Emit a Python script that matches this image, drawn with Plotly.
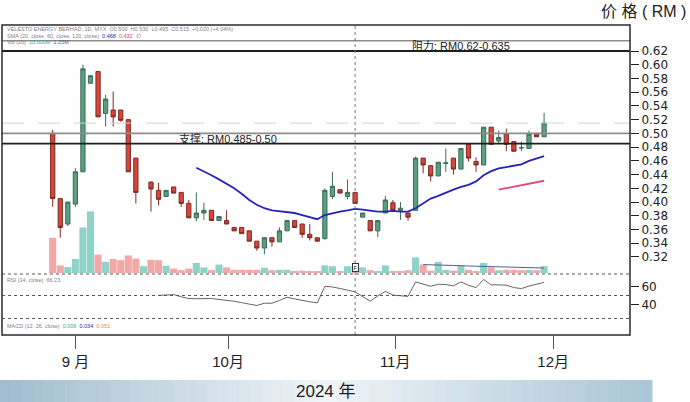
import plotly.graph_objects as go

W, H = 690, 402

# ---------------- data (trading-day index, price in RM) ----------------
day = list(range(66))
opens = [0.500, 0.405, 0.368, 0.397, 0.444, 0.573, 0.590, 0.529, 0.534, 0.534, 0.520, 0.464, None,
         0.429, 0.417, 0.408, 0.422, 0.414, 0.398, 0.377, 0.384, 0.388, 0.373, 0.373, 0.363, 0.363,
         0.358, 0.343, 0.333, 0.348, 0.342, 0.358, 0.373, 0.368, 0.353, 0.348, 0.347, 0.408, 0.418,
         0.408, 0.414, 0.378, 0.373, 0.358, 0.384, 0.399, 0.388, 0.384, 0.388, 0.464, 0.453, 0.438,
         0.456, 0.464, 0.448, 0.484, 0.459, 0.454, 0.509, 0.489, 0.499, 0.488, 0.479, 0.478, 0.500, 0.495]
highs = [0.505, 0.405, 0.400, 0.449, 0.600, 0.585, 0.590, 0.556, 0.561, 0.534, 0.520, 0.464, None,
         0.430, 0.428, 0.417, 0.422, 0.414, 0.403, 0.414, 0.399, 0.388, 0.379, 0.388, 0.363, 0.363,
         0.358, 0.343, 0.348, 0.348, 0.363, 0.373, 0.373, 0.368, 0.368, 0.348, 0.420, 0.444, 0.418,
         0.433, 0.414, 0.384, 0.373, 0.373, 0.409, 0.403, 0.400, 0.384, 0.466, 0.464, 0.453, 0.458,
         0.478, 0.464, 0.478, 0.484, 0.465, 0.509, 0.509, 0.504, 0.507, 0.488, 0.488, 0.504, 0.500, 0.530]
lows = [0.393, 0.348, 0.365, 0.393, 0.444, 0.573, 0.524, 0.510, 0.510, 0.517, 0.444, 0.398, None,
        0.386, 0.395, 0.408, 0.413, 0.393, 0.377, 0.372, 0.374, 0.373, 0.373, 0.368, 0.358, 0.354,
        0.343, 0.329, 0.324, 0.335, 0.342, 0.358, 0.363, 0.348, 0.344, 0.343, 0.345, 0.404, 0.413,
        0.404, 0.398, 0.378, 0.358, 0.349, 0.384, 0.388, 0.374, 0.373, 0.388, 0.442, 0.430, 0.438,
        0.444, 0.440, 0.448, 0.459, 0.444, 0.454, 0.484, 0.484, 0.474, 0.474, 0.474, 0.478, 0.495, 0.495]
closes = [0.405, 0.363, 0.400, 0.444, 0.594, 0.584, 0.524, 0.550, 0.524, 0.519, 0.444, 0.414, None,
          0.419, 0.404, 0.417, 0.413, 0.398, 0.377, 0.384, 0.388, 0.373, 0.379, 0.368, 0.358, 0.354,
          0.343, 0.333, 0.348, 0.342, 0.358, 0.373, 0.363, 0.353, 0.348, 0.343, 0.417, 0.423, 0.413,
          0.414, 0.398, 0.384, 0.358, 0.373, 0.403, 0.388, 0.391, 0.378, 0.464, 0.454, 0.438, 0.458,
          0.457, 0.448, 0.478, 0.464, 0.454, 0.509, 0.484, 0.494, 0.484, 0.474, 0.479, 0.499, 0.495, 0.515]
# volume, million shares
volume = [8.8, 1.9, 1.5, 3.5, 11.4, 15.4, 4.6, 2.8, 3.5, 3.2, 4.4, 3.6, 1.7,
          3.3, 3.2, 1.8, 1.1, 0.7, 1.1, 2.5, 1.4, 0.7, 2.1, 1.4, 0.8, 0.8,
          0.8, 0.8, 1.3, 0.7, 0.8, 0.8, 0.4, 0.6, 0.4, 0.4, 1.9, 1.7, 0.4,
          1.7, 1.7, 1.4, 0.7, 0.4, 1.9, 0.4, 0.3, 0.7, 3.9, 2.1, 0.6, 2.8,
          0.8, 0.6, 1.9, 0.8, 0.4, 2.5, 1.4, 0.7, 0.8, 0.8, 0.7, 0.8, 0.7, 1.7]
vol_up = [False, False, True, True, True, True, False, True, False, False, False, False, True,
          False, False, True, False, False, False, True, True, False, True, False, False, False,
          False, False, True, False, True, True, False, False, False, False, True, True, False,
          True, False, True, False, True, True, False, False, False, True, False, False, True,
          True, False, True, False, False, True, False, True, False, False, False, True, False, True]
volma_day = list(range(49, 66))
volma = [2.10, 2.08, 2.03, 1.98, 1.90, 1.83, 1.75, 1.70, 1.65, 1.60, 1.53, 1.45, 1.40, 1.35, 1.30, 1.25, 1.25]

sma20_day = list(range(19, 66))
sma20 = [0.450, 0.445, 0.439, 0.433, 0.427, 0.420, 0.412, 0.403, 0.396, 0.391, 0.388, 0.387, 0.386,
         0.384, 0.381, 0.378, 0.375, 0.381, 0.384, 0.386, 0.388, 0.390, 0.389, 0.387, 0.386, 0.386,
         0.387, 0.386, 0.386, 0.391, 0.398, 0.405, 0.409, 0.414, 0.418, 0.422, 0.425, 0.430, 0.439,
         0.445, 0.449, 0.451, 0.453, 0.455, 0.460, 0.464, 0.467]
sma60_day = list(range(59, 66))
sma60 = [0.418, 0.420, 0.422, 0.424, 0.426, 0.428, 0.431]

rsi_day = list(range(14, 66))
rsi = [50.1, 50.8, 51.0, 48.5, 46.7, 46.4, 46.5, 46.7, 45.6, 44.8, 43.6, 42.0, 40.5, 38.9, 41.4,
       41.4, 44.5, 48.0, 46.2, 44.4, 43.0, 41.8, 60.2, 59.5, 58.0, 56.0, 54.0, 48.5, 43.7, 49.5,
       54.6, 50.5, 49.5, 49.0, 65.1, 62.5, 60.2, 62.5, 62.2, 60.7, 65.1, 61.3, 58.8, 67.8, 61.8,
       61.8, 61.5, 58.8, 57.7, 60.5, 62.2, 64.5]

month_pos = [3.0, 23.2, 45.3, 66.2]
month_text = ["9 月", "10月", "11月", "12月"]
price_ticks = [0.32, 0.34, 0.36, 0.38, 0.40, 0.42, 0.44, 0.46, 0.48, 0.50, 0.52, 0.54, 0.56, 0.58, 0.60, 0.62]
rsi_ticks = [40, 60]
resistance = (0.62, 0.635)
support = (0.485, 0.50)
last_price = 0.515
cursor_day = 40

# ---------------- helpers ----------------
def px_x(p):
    return p / W

def px_y(p):
    return 1 - p / H

BOX_L, BOX_R, BOX_T, BOX_B = 2, 630, 25, 335
X0_PX, DX_PX = 52.7, 7.56
x_range = [(BOX_L - X0_PX) / DX_PX, (BOX_R - X0_PX) / DX_PX]

PY0, PK = 51, 686.5  # 0.62 at y=51, px per RM
MAIN_T, MAIN_B = 25, 273
price_range = [0.62 - (MAIN_B - PY0) / PK, 0.62 + (PY0 - MAIN_T) / PK]
RSI_T, RSI_B = 274, 318.5
rsi_range = [50 - (RSI_B - 295.5) / 0.9, 50 + (295.5 - RSI_T) / 0.9]

fig = go.Figure()

fig.add_trace(go.Bar(
    x=day, y=volume, yaxis="y2",
    marker=dict(color=["#8fd2c7" if u else "#f3a7a6" for u in vol_up], line=dict(width=0)),
    hoverinfo="skip", showlegend=False))
fig.add_trace(go.Scatter(x=volma_day, y=volma, yaxis="y2", mode="lines",
                         line=dict(color="#52608f", width=1), showlegend=False, hoverinfo="skip"))

fig.add_trace(go.Candlestick(
    x=day, open=opens, high=highs, low=lows, close=closes,
    increasing=dict(fillcolor="#5c9e80", line=dict(color="#3a6c57", width=1)),
    decreasing=dict(fillcolor="#d8463a", line=dict(color="#7d2a22", width=1)),
    showlegend=False, hoverinfo="skip"))

fig.add_trace(go.Scatter(x=sma20_day, y=sma20, mode="lines",
                         line=dict(color="#2424b8", width=1.8), showlegend=False, hoverinfo="skip"))
fig.add_trace(go.Scatter(x=sma60_day, y=sma60, mode="lines",
                         line=dict(color="#e2496a", width=1.8), showlegend=False, hoverinfo="skip"))

fig.add_trace(go.Scatter(x=rsi_day, y=rsi, yaxis="y3", mode="lines",
                         line=dict(color="#555555", width=0.9), showlegend=False, hoverinfo="skip"))

shapes = []
# gradient banner
n = 60
left, mid, right = (160, 189, 207), (240, 245, 248), (170, 198, 214)
for i in range(n):
    t = (i + 0.5) / n
    if t < 0.5:
        a, b, u = left, mid, t / 0.5
    else:
        a, b, u = mid, right, (t - 0.5) / 0.5
    c = tuple(int(a[k] + (b[k] - a[k]) * u) for k in range(3))
    shapes.append(dict(type="rect", xref="paper", yref="paper",
                       x0=px_x(652 * i / n), x1=px_x(652 * (i + 1) / n + 0.5),
                       y0=px_y(402), y1=px_y(380), line=dict(width=0),
                       fillcolor="rgb(%d,%d,%d)" % c, layer="below"))

# last price faint dashed line
shapes.append(dict(type="line", xref="paper", yref="y", x0=px_x(BOX_L), x1=px_x(BOX_R),
                   y0=last_price, y1=last_price, line=dict(color="#d2d2d2", width=1, dash="22px,14px")))
# resistance / support lines
for lvl, col, wd in [(resistance[1], "#8c8c8c", 1.6), (resistance[0], "#1e1e1e", 1.8),
                     (support[1], "#8c8c8c", 1.6), (support[0], "#1e1e1e", 1.8)]:
    shapes.append(dict(type="line", xref="paper", yref="y", x0=px_x(BOX_L), x1=px_x(BOX_R),
                       y0=lvl, y1=lvl, line=dict(color=col, width=wd)))
# pane separators / RSI midline
for ypx in [274, RSI_B]:
    shapes.append(dict(type="line", xref="paper", yref="paper", x0=px_x(BOX_L), x1=px_x(BOX_R),
                       y0=px_y(ypx), y1=px_y(ypx), line=dict(color="#555555", width=1, dash="3px,3px")))
shapes.append(dict(type="line", xref="paper", yref="y3", x0=px_x(BOX_L), x1=px_x(BOX_R),
                   y0=50, y1=50, line=dict(color="#555555", width=1, dash="3px,3px")))
# cursor line
shapes.append(dict(type="line", xref="x", yref="paper", x0=cursor_day, x1=cursor_day,
                   y0=px_y(BOX_B), y1=px_y(BOX_T), line=dict(color="#777777", width=1, dash="dot")))
# box
shapes.append(dict(type="rect", xref="paper", yref="paper", x0=px_x(BOX_L), x1=px_x(BOX_R),
                   y0=px_y(BOX_B), y1=px_y(BOX_T), line=dict(color="#2a2a2a", width=1.5)))

cjk = "Liberation Sans, Noto Sans CJK SC, sans-serif"
tiny = dict(family="Liberation Sans, sans-serif", size=5.5, color="#808080")
ann = []
ann.append(dict(xref="paper", yref="paper", x=px_x(5), y=px_y(29.5), xanchor="left", yanchor="middle",
                showarrow=False, font=tiny,
                text="VELESTO ENERGY BERHAD, 1D, MYX  O0.500  H0.530  L0.495  C0.515  +0.020 (+4.04%)"))
ann.append(dict(xref="paper", yref="paper", x=px_x(5), y=px_y(36), xanchor="left", yanchor="middle",
                showarrow=False, font=tiny,
                text="SMA (20, close, 60, close, 120, close)  <span style='color:#2424b8'>0.468</span>  "
                     "<span style='color:#e2496a'>0.432</span>  ∅"))
ann.append(dict(xref="paper", yref="paper", x=px_x(5), y=px_y(42), xanchor="left", yanchor="middle",
                showarrow=False, font=tiny,
                text="Vol (20)  <span style='color:#3aa89a'>15.000M</span>  <span style='color:#52608f'>1.25M</span>"))
ann.append(dict(xref="paper", yref="paper", x=px_x(5), y=px_y(280), xanchor="left", yanchor="middle",
                showarrow=False, font=tiny, text="RSI (14, close)  66.23"))
ann.append(dict(xref="paper", yref="paper", x=px_x(5), y=px_y(326), xanchor="left", yanchor="middle",
                showarrow=False, font=tiny,
                text="MACD (12, 26, close)  <span style='color:#3aa89a'>0.006</span>  "
                     "<span style='color:#2424b8'>0.034</span>  <span style='color:#e08a3a'>0.051</span>"))
ann.append(dict(xref="paper", yref="y", x=px_x(461), y=sum(resistance) / 2, showarrow=False,
                xanchor="center", yanchor="middle", text="阻力: RM0.62-0.635",
                font=dict(family=cjk, size=11, color="#222222")))
ann.append(dict(xref="paper", yref="y", x=px_x(228), y=sum(support) / 2, showarrow=False,
                xanchor="center", yanchor="middle", text="支撑: RM0.485-0.50",
                font=dict(family=cjk, size=11, color="#222222")))
ann.append(dict(xref="x", yref="paper", x=cursor_day, y=px_y(267), showarrow=False, text="F",
                xanchor="center", yanchor="middle", font=dict(family="Liberation Sans", size=6, color="#222222"),
                bgcolor="white", bordercolor="#333333", borderwidth=1, borderpad=0.5))
ann.append(dict(xref="paper", yref="paper", x=px_x(688), y=px_y(11), xanchor="right", yanchor="middle",
                showarrow=False, text="价 格 ( RM )", font=dict(family=cjk, size=16, color="#222222")))
ann.append(dict(xref="paper", yref="paper", x=px_x(326), y=px_y(391), xanchor="center", yanchor="middle",
                showarrow=False, text="2024 年", font=dict(family=cjk, size=17, color="#222222")))

tickfont = dict(family="DejaVu Sans, sans-serif", size=12, color="#222222")
fig.update_layout(
    width=W, height=H, margin=dict(l=0, r=0, t=0, b=0),
    paper_bgcolor="white", plot_bgcolor="rgba(0,0,0,0)",
    showlegend=False, bargap=0.06, boxgap=0.2,
    xaxis=dict(domain=[px_x(BOX_L), px_x(BOX_R)], range=x_range, anchor="free", position=px_y(BOX_B),
               rangeslider=dict(visible=False), showgrid=False, zeroline=False, showline=False,
               tickmode="array", tickvals=month_pos, ticktext=month_text, ticks="outside", ticklen=13,
               tickcolor="#555555", tickwidth=1, tickfont=dict(family=cjk, size=15, color="#222222")),
    yaxis=dict(domain=[px_y(MAIN_B), px_y(MAIN_T)], range=price_range, side="right", showgrid=False,
               zeroline=False, showline=False, tickmode="array", tickvals=price_ticks, tickformat=".2f",
               ticks="outside", ticklen=8, tickcolor="#222222", tickfont=tickfont),
    yaxis2=dict(overlaying="y", range=[0, 62], visible=False),
    yaxis3=dict(domain=[px_y(RSI_B), px_y(RSI_T)], range=rsi_range, side="right", anchor="x",
                showgrid=False, zeroline=False, showline=False, tickmode="array", tickvals=rsi_ticks,
                ticks="outside", ticklen=8, tickcolor="#222222", tickfont=tickfont),
    shapes=shapes, annotations=ann,
)

fig.write_html("out.html")
